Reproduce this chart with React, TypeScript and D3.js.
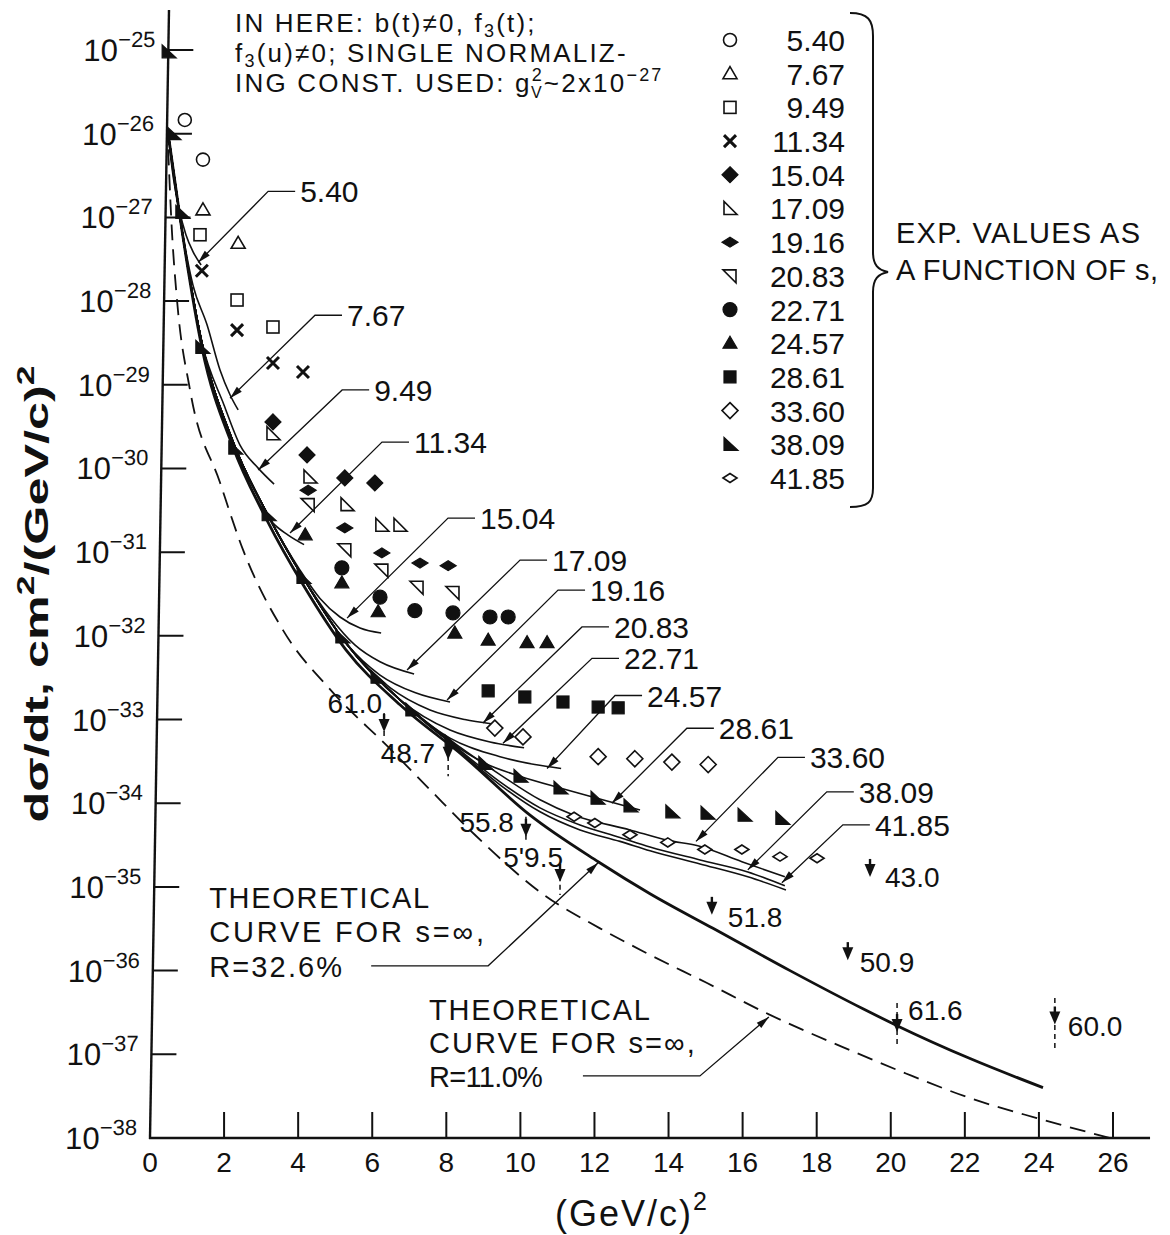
import React from "react";
import * as d3 from "d3";

type Pt = [number, number];

const width = 1170;
const height = 1235;
const font = "'Liberation Sans', Arial, sans-serif";
const ink = "#111";

// t axis (GeV/c)^2 and dσ/dt log axis
const x = d3.scaleLinear().domain([0, 26]).range([150, 1113]);
const y = d3.scaleLog().domain([1e-38, 1e-25]).range([1138, 50]);
const xMax = 27;
const yMax = 3e-25;
const axisLean = -0.965; // the scanned y axis leans right toward the top

const xTicks = d3.range(0, 27, 2);
const yExps = d3.range(-25, -39, -1);

// theoretical curves for s = infinity
const theoryR326: Pt[] = [
  [0.49, 1.0e-26], [0.81, 1.0e-27], [1.4, 2.8e-29], [2.24, 1.8e-30], [3.16, 2.4e-31],
  [4.13, 4.1e-32], [5.29, 6.8e-33], [6.75, 1.5e-33], [8.45, 3.7e-34], [10.26, 7.2e-35],
  [12.1, 2.0e-35], [13.5, 8.3e-36], [15.2, 3.2e-36], [17.28, 1.0e-36], [19.25, 3.5e-37],
  [20.17, 2.2e-37], [22.14, 8.9e-38], [24.11, 4.0e-38],
];
const theoryR110: Pt[] = [
  [0.49, 6.5e-27], [0.59, 7.1e-28], [0.73, 1.02e-28], [1.08, 8.7e-30], [1.89, 6.8e-31],
  [2.51, 1.07e-31], [3.59, 1.17e-32], [4.94, 2.1e-33], [6.43, 4.7e-34], [7.56, 1.45e-34],
  [8.77, 4.2e-35], [10.66, 7.9e-36], [12.15, 3.2e-36], [13.36, 1.66e-36], [15.04, 7.1e-37],
  [16.71, 3.0e-37], [18.9, 1.12e-37], [20.41, 5.9e-38], [22.14, 3.0e-38], [23.92, 1.74e-38],
  [25.92, 1.0e-38],
];

// finite-s curves: common start, then own tail
const trunk: Pt[] = [
  [0.49, 1.0e-26], [0.81, 1.0e-27], [1.4, 3.2e-29], [2.24, 2.1e-30], [3.16, 2.9e-31],
  [4.13, 5.0e-32], [5.29, 8.2e-33], [6.75, 1.72e-33], [8.1, 5.4e-34],
];
const sLabels = ["5.40", "7.67", "9.49", "11.34", "15.04", "17.09", "19.16", "20.83", "22.71", "24.57", "28.61", "33.60", "38.09", "41.85"];
const trunkLen = [1, 2, 3, 4, 5, 6, 7, 7, 8, 8, 9, 8, 8, 8];
const tail540: Pt[] = [[0.62, 3.2e-27], [0.78, 1.3e-27], [0.97, 6.2e-28], [1.16, 3.9e-28], [1.38, 2.7e-28]];
const tail767: Pt[] = [[1.16, 1.55e-28], [1.54, 5.2e-29], [1.89, 1.5e-29], [2.16, 7.6e-30], [2.38, 5.0e-30]];
const tail949: Pt[] = [[2.0, 5.7e-30], [2.43, 1.9e-30], [2.92, 1.01e-30], [3.35, 6.5e-31]];
const tail1134: Pt[] = [[2.83, 4.8e-31], [3.29, 2.3e-31], [3.73, 1.6e-31], [4.16, 1.23e-31]];
const tail1504: Pt[] = [[4.05, 6.1e-32], [4.59, 2.8e-32], [5.13, 1.68e-32], [5.67, 1.24e-32], [6.24, 1.08e-32]];
const tail1709: Pt[] = [[4.86, 1.68e-32], [5.53, 7.8e-33], [6.21, 4.9e-33], [7.13, 3.5e-33]];
const tail1916: Pt[] = [[6.21, 3.4e-33], [7.15, 2.1e-33], [8.1, 1.62e-33]];
const tail2083: Pt[] = [[6.48, 2.4e-33], [7.56, 1.3e-33], [8.5, 1.0e-33], [9.21, 8.9e-34]];
const tail2271: Pt[] = [[8.1, 7.5e-34], [9.18, 5.4e-34], [10.1, 4.6e-34]];
const tail2457: Pt[] = [[8.1, 6.0e-34], [9.45, 3.6e-34], [10.39, 2.9e-34], [11.1, 2.6e-34]];
const tail2861: Pt[] = [[9.04, 3.0e-34], [9.99, 2.1e-34], [11.07, 1.52e-34], [12.07, 1.15e-34], [13.23, 8.3e-35]];
const tail3360: Pt[] = [[8.1, 5.7e-34], [9.45, 2.2e-34], [10.53, 1.1e-34], [11.45, 7.2e-35], [12.96, 4.8e-35], [13.98, 3.6e-35], [14.79, 3.1e-35], [15.98, 2.0e-35], [17.14, 1.32e-35]];
const tail3809: Pt[] = [[8.1, 5.4e-34], [9.45, 1.8e-34], [10.53, 8.8e-35], [11.61, 5.5e-35], [12.69, 3.9e-35], [13.5, 3.0e-35], [14.85, 2.1e-35], [16.14, 1.51e-35], [17.14, 1.03e-35]];
const tail4185: Pt[] = [[8.1, 5.3e-34], [9.45, 1.66e-34], [10.53, 7.9e-35], [11.61, 4.8e-35], [12.69, 3.5e-35], [13.5, 2.7e-35], [14.85, 1.88e-35], [16.14, 1.32e-35], [17.17, 9.2e-36]];
const tails = [tail540, tail767, tail949, tail1134, tail1504, tail1709, tail1916, tail2083, tail2271, tail2457, tail2861, tail3360, tail3809, tail4185];

// where each curve label's arrow lands, and the leader's elbow offset in px
const tips: Pt[] = [
  [1.3, 2.9e-28], [2.16, 6.9e-30], [2.92, 9.6e-31], [3.78, 1.69e-31], [5.32, 1.63e-32],
  [6.94, 3.9e-33], [8.02, 1.71e-33], [8.99, 9.1e-34], [9.53, 5.2e-34], [10.72, 2.6e-34],
  [12.47, 1.0e-34], [14.74, 3.5e-35], [16.14, 1.6e-35], [17.06, 1.12e-35],
];
const leaderOffsets: Pt[] = [
  [70, -71], [85, -83], [84, -80], [92, -91], [101, -100], [113, -110], [111, -110],
  [99, -96], [89, -85], [68, -73], [75, -75], [82, -84], [79, -78], [61, -58],
];

// experimental points, one array per s
const symbolKinds = ["circleOpen", "triOpen", "squareOpen", "cross", "diamondFilled", "rtriOpen", "flatDiamondFilled", "ltriOpen", "dot", "triFilled", "squareFilled", "diamondOpen", "rtriFilled", "flatDiamondOpen"];
const pts540: Pt[] = [[0.94, 1.46e-26], [1.43, 4.9e-27]];
const pts767: Pt[] = [[1.43, 1.23e-27], [2.38, 4.9e-28]];
const pts949: Pt[] = [[1.35, 6.2e-28], [2.35, 1.03e-28], [3.32, 4.9e-29]];
const pts1134: Pt[] = [[1.4, 2.3e-28], [2.35, 4.5e-29], [3.32, 1.82e-29], [4.13, 1.42e-29]];
const pts1504: Pt[] = [[3.32, 3.6e-30], [4.24, 1.45e-30], [5.26, 7.7e-31], [6.07, 6.7e-31]];
const pts1709: Pt[] = [[3.32, 2.6e-30], [4.32, 7.9e-31], [5.32, 3.7e-31], [6.26, 2.1e-31], [6.75, 2.1e-31]];
const pts1916: Pt[] = [[4.27, 5.5e-31], [5.26, 1.95e-31], [6.26, 9.8e-32], [7.29, 7.4e-32], [8.05, 6.9e-32]];
const pts2083: Pt[] = [[4.27, 3.7e-31], [5.26, 1.07e-31], [6.26, 6.1e-32], [7.21, 3.8e-32], [8.18, 3.3e-32]];
const pts2271: Pt[] = [[5.18, 6.5e-32], [6.21, 2.9e-32], [7.15, 2.0e-32], [8.18, 1.88e-32], [9.18, 1.68e-32], [9.67, 1.68e-32]];
const pts2457: Pt[] = [[4.19, 1.61e-31], [5.18, 4.3e-32], [6.16, 1.94e-32], [8.23, 1.08e-32], [9.13, 8.9e-33], [10.18, 8.3e-33], [10.72, 8.3e-33]];
const pts2861: Pt[] = [[9.13, 2.2e-33], [10.12, 1.86e-33], [11.15, 1.62e-33], [12.1, 1.41e-33], [12.64, 1.38e-33]];
const pts3360: Pt[] = [[9.31, 7.9e-34], [10.07, 6.2e-34], [12.1, 3.6e-34], [13.09, 3.4e-34], [14.09, 3.1e-34], [15.07, 2.9e-34]];
const pts3809: Pt[] = [
  [0.49, 9.5e-26], [0.62, 1.0e-26], [0.86, 1.15e-27], [1.4, 2.8e-29], [2.29, 1.75e-30],
  [3.19, 2.8e-31], [4.13, 5.0e-32], [5.18, 9.7e-33], [6.13, 3.2e-33], [7.07, 1.3e-33],
  [8.13, 5.4e-34], [9.04, 3.0e-34], [9.99, 2.1e-34], [11.07, 1.52e-34], [12.07, 1.15e-34],
  [12.96, 9.3e-35], [14.09, 7.9e-35], [15.04, 7.6e-35], [16.04, 7.2e-35], [17.06, 6.6e-35],
];
const pts4185: Pt[] = [[11.45, 6.9e-35], [12.01, 5.8e-35], [12.96, 4.2e-35], [13.98, 3.4e-35], [14.98, 2.8e-35], [15.98, 2.8e-35], [17.01, 2.3e-35], [18.01, 2.2e-35]];
const points = [pts540, pts767, pts949, pts1134, pts1504, pts1709, pts1916, pts2083, pts2271, pts2457, pts2861, pts3360, pts3809, pts4185];

// upper limits (arrows), with their dashed ranges
const limitLabels = ["61.0", "48.7", "55.8", "5'9.5", "43.0", "51.8", "50.9", "61.6", "60.0"];
const limitPts: Pt[] = [[6.32, 7.5e-34], [8.05, 3.5e-34], [10.15, 4.2e-35], [11.07, 1.21e-35], [19.44, 1.39e-35], [15.17, 4.9e-36], [18.84, 1.41e-36], [20.17, 1.95e-37], [24.43, 2.4e-37]];
const limitRanges: (Pt | null)[] = [[1.2e-33, 6.0e-34], [4.7e-34, 2.1e-34], [6.9e-35, 3.4e-35], [1.74e-35, 8.0e-36], null, null, null, [4.1e-37, 1.23e-37], [4.7e-37, 1.07e-37]];
const limitLabelPos: [number, number, string][] = [[-2, -17, "end"], [-13, 5, "end"], [-12, -3, "end"], [3, -13, "end"], [15, 12, "start"], [16, 14, "start"], [12, 14, "start"], [11, -10, "start"], [13, 14, "start"]];

const theoryTip326: Pt = [12.1, 1.94e-35];
const theoryTip110: Pt = [16.71, 2.8e-37];

function Marker({ kind, cx, cy }: { kind: string; cx: number; cy: number }) {
  const open = { stroke: ink, strokeWidth: 1.6, fill: "#fff" };
  const solid = { stroke: ink, strokeWidth: 1.2, fill: ink };
  const poly = (p: number[][]) => "M" + p.map((q) => `${cx + q[0]},${cy + q[1]}`).join("L") + "Z";
  switch (kind) {
    case "circleOpen": return <circle cx={cx} cy={cy} r={6.5} {...open} />;
    case "triOpen": return <path d={poly([[0, -7], [7, 5], [-7, 5]])} {...open} />;
    case "squareOpen": return <rect x={cx - 6} y={cy - 6} width={12} height={12} {...open} />;
    case "cross": return <path d={`M${cx - 6},${cy - 6}L${cx + 6},${cy + 6}M${cx + 6},${cy - 6}L${cx - 6},${cy + 6}`} stroke={ink} strokeWidth={3} />;
    case "diamondFilled": return <path d={poly([[0, -8], [8, 0], [0, 8], [-8, 0]])} {...solid} />;
    case "rtriOpen": return <path d={poly([[-6, -7], [-6, 6], [7, 6]])} {...open} />;
    case "flatDiamondFilled": return <path d={poly([[-8, 0], [0, -5], [8, 0], [0, 5]])} {...solid} />;
    case "ltriOpen": return <path d={poly([[-7, -6], [6, -6], [6, 7]])} {...open} />;
    case "dot": return <circle cx={cx} cy={cy} r={7} {...solid} />;
    case "triFilled": return <path d={poly([[0, -7], [7, 5], [-7, 5]])} {...solid} />;
    case "squareFilled": return <rect x={cx - 6} y={cy - 6} width={12} height={12} {...solid} />;
    case "diamondOpen": return <path d={poly([[0, -8], [8, 0], [0, 8], [-8, 0]])} {...open} />;
    case "rtriFilled": return <path d={poly([[-6, -7], [-6, 6], [8, 6]])} {...solid} />;
    default: return <path d={poly([[-7, 0], [0, -4.5], [7, 0], [0, 4.5]])} {...open} />;
  }
}

// filled arrowhead at (tx,ty) coming from (fx,fy)
function arrowHead(fx: number, fy: number, tx: number, ty: number, len = 13, half = 3.5) {
  const dx = tx - fx, dy = ty - fy;
  const n = Math.hypot(dx, dy);
  const ux = dx / n, uy = dy / n;
  const bx = tx - ux * len, by = ty - uy * len;
  return `M${tx},${ty}L${bx - uy * half},${by + ux * half}L${bx + uy * half},${by - ux * half}Z`;
}

export default function App() {
  const lineGen = d3.line<Pt>().x((d) => x(d[0])).y((d) => y(d[1])).curve(d3.curveMonotoneX);
  const sCurves = sLabels.map((_, i) => [...trunk.slice(0, trunkLen[i]), ...tails[i]]);
  const x0 = x(0);
  const yb = y(1e-38);
  const lean = `translate(0,${yb}) skewX(${axisLean}) translate(0,${-yb})`;
  const legendY = d3.scaleLinear().domain([0, 13]).range([40, 478]);

  const t326 = [x(theoryTip326[0]), y(theoryTip326[1])];
  const e326 = [t326[0] - 110, t326[1] + 103];
  const h326 = [t326[0] - 227, t326[1] + 103];
  const t110 = [x(theoryTip110[0]), y(theoryTip110[1])];
  const e110 = [t110[0] - 69, t110[1] + 59];
  const h110 = [t110[0] - 186, t110[1] + 59];

  return (
    <svg width={width} height={height} style={{ position: "absolute", left: 0, top: 0 }} fontFamily={font} fill={ink}>
      <rect width={width} height={height} fill="#fff" />

      {/* y axis */}
      <g transform={lean}>
        <line x1={x0} x2={x0} y1={yb + 1} y2={y(yMax)} stroke={ink} strokeWidth={2.4} />
        {yExps.map((e) => (
          <g key={e}>
            {e > -38 && <line x1={x0} x2={x0 + 25} y1={y(10 ** e)} y2={y(10 ** e)} stroke={ink} strokeWidth={2} />}
            <text x={x0 - 13} y={y(10 ** e) + 11} textAnchor="end" fontSize={31}>
              10<tspan dy={-14} fontSize={22}>{"\u2212" + -e}</tspan>
            </text>
          </g>
        ))}
      </g>

      {/* x axis */}
      <line x1={x0 - 1} x2={x(xMax)} y1={yb} y2={yb} stroke={ink} strokeWidth={2.4} />
      {xTicks.filter((v) => v > 0).map((v) => (
        <line key={v} x1={x(v)} x2={x(v)} y1={yb} y2={yb - 26} stroke={ink} strokeWidth={2} />
      ))}
      {xTicks.map((v) => (
        <text key={v} x={x(v)} y={yb + 34} textAnchor="middle" fontSize={28}>{v}</text>
      ))}
      <text x={555} y={1226} fontSize={36} letterSpacing={2}>
        (GeV/c)<tspan dy={-16} fontSize={25}>2</tspan>
      </text>
      <text transform="translate(48,594) rotate(-90)" textAnchor="middle" fontSize={34} fontWeight="bold" textLength={457} lengthAdjust="spacingAndGlyphs">
        dσ/dt, cm<tspan dy={-14} fontSize={24}>2</tspan><tspan dy={14}>/(GeV/c)</tspan><tspan dy={-14} fontSize={24}>2</tspan>
      </text>

      {/* curves */}
      <path d={lineGen(theoryR110) || ""} fill="none" stroke={ink} strokeWidth={1.8} strokeDasharray="16 9" />
      <path d={lineGen(theoryR326) || ""} fill="none" stroke={ink} strokeWidth={2.8} />
      {sCurves.map((c, i) => (
        <path key={i} d={lineGen(c) || ""} fill="none" stroke={ink} strokeWidth={1.6} />
      ))}

      {/* curve labels with leaders */}
      {sLabels.map((s, i) => {
        const tx = x(tips[i][0]), ty = y(tips[i][1]);
        const ex = tx + leaderOffsets[i][0], ey = ty + leaderOffsets[i][1];
        return (
          <g key={s}>
            <path d={`M${tx},${ty}L${ex},${ey}L${ex + 27},${ey}`} fill="none" stroke={ink} strokeWidth={1.3} />
            <path d={arrowHead(ex, ey, tx, ty)} fill={ink} />
            <text x={ex + 32} y={ey + 11} fontSize={30}>{s}</text>
          </g>
        );
      })}

      {/* experimental points */}
      {points.map((pts, i) => pts.map((p, j) => (
        <Marker key={`${i}-${j}`} kind={symbolKinds[i]} cx={x(p[0])} cy={y(p[1])} />
      )))}

      {/* upper limits */}
      {limitPts.map((p, i) => {
        const px = x(p[0]), py = y(p[1]);
        const r = limitRanges[i];
        const lp = limitLabelPos[i];
        return (
          <g key={limitLabels[i]}>
            {r && <line x1={px} x2={px} y1={y(r[0])} y2={y(r[1])} stroke={ink} strokeWidth={1.5} strokeDasharray="5 4" />}
            <line x1={px} x2={px} y1={py - 16} y2={py - 6} stroke={ink} strokeWidth={2.4} />
            <path d={`M${px - 5.5},${py - 11}L${px + 5.5},${py - 11}L${px},${py + 2}Z`} fill={ink} />
            <text x={px + lp[0]} y={py + lp[1]} textAnchor={lp[2]} fontSize={28}>{limitLabels[i]}</text>
          </g>
        );
      })}

      {/* theoretical curve labels */}
      <path d={`M${t326[0]},${t326[1]}L${e326[0]},${e326[1]}L${h326[0]},${h326[1]}`} fill="none" stroke={ink} strokeWidth={1.3} />
      <path d={arrowHead(e326[0], e326[1], t326[0], t326[1])} fill={ink} />
      <g fontSize={29}>
        <text x={h326[0] - 162} y={h326[1] - 58} textLength={220} lengthAdjust="spacing">THEORETICAL</text>
        <text x={h326[0] - 162} y={h326[1] - 24} textLength={275} lengthAdjust="spacing">CURVE FOR s=∞,</text>
        <text x={h326[0] - 162} y={h326[1] + 11} textLength={133} lengthAdjust="spacing">R=32.6%</text>
      </g>
      <path d={`M${t110[0]},${t110[1]}L${e110[0]},${e110[1]}L${h110[0]},${h110[1]}`} fill="none" stroke={ink} strokeWidth={1.3} />
      <path d={arrowHead(e110[0], e110[1], t110[0], t110[1])} fill={ink} />
      <g fontSize={29}>
        <text x={h110[0] - 154} y={h110[1] - 56} textLength={221} lengthAdjust="spacing">THEORETICAL</text>
        <text x={h110[0] - 154} y={h110[1] - 23} textLength={266} lengthAdjust="spacing">CURVE FOR s=∞,</text>
        <text x={h110[0] - 154} y={h110[1] + 11} textLength={114} lengthAdjust="spacing">R=11.0%</text>
      </g>

      {/* note */}
      <g fontSize={26} letterSpacing={2.2}>
        <text x={235} y={32}>
          IN HERE: b(t)≠0, f<tspan dy={5} fontSize={18}>3</tspan><tspan dy={-5}>(t);</tspan>
        </text>
        <text x={235} y={62}>
          f<tspan dy={5} fontSize={18}>3</tspan><tspan dy={-5}>(u)≠0; SINGLE NORMALIZ-</tspan>
        </text>
        <text x={235} y={92}>
          ING CONST. USED: g<tspan dy={-11} fontSize={18}>2</tspan>
          <tspan dx={-13} dy={17} fontSize={16}>V</tspan>
          <tspan dy={-6}>~2x10</tspan><tspan dy={-11} fontSize={18}>{"\u221227"}</tspan>
        </text>
      </g>

      {/* legend */}
      {sLabels.map((s, i) => (
        <g key={s}>
          <Marker kind={symbolKinds[i]} cx={730} cy={legendY(i)} />
          <text x={845} y={legendY(i) + 11} textAnchor="end" fontSize={30}>{s}</text>
        </g>
      ))}
      <path d="M850,13 C868,13 873,20 873,36 L873,252 C873,265 878,270 888,272 C878,274 873,279 873,292 L873,488 C873,502 868,507 850,507"
        fill="none" stroke={ink} strokeWidth={2} />
      <text x={896} y={243} fontSize={29} textLength={244} lengthAdjust="spacing">EXP. VALUES AS</text>
      <text x={896} y={280} fontSize={29} textLength={262} lengthAdjust="spacing">A FUNCTION OF s,</text>
    </svg>
  );
}
